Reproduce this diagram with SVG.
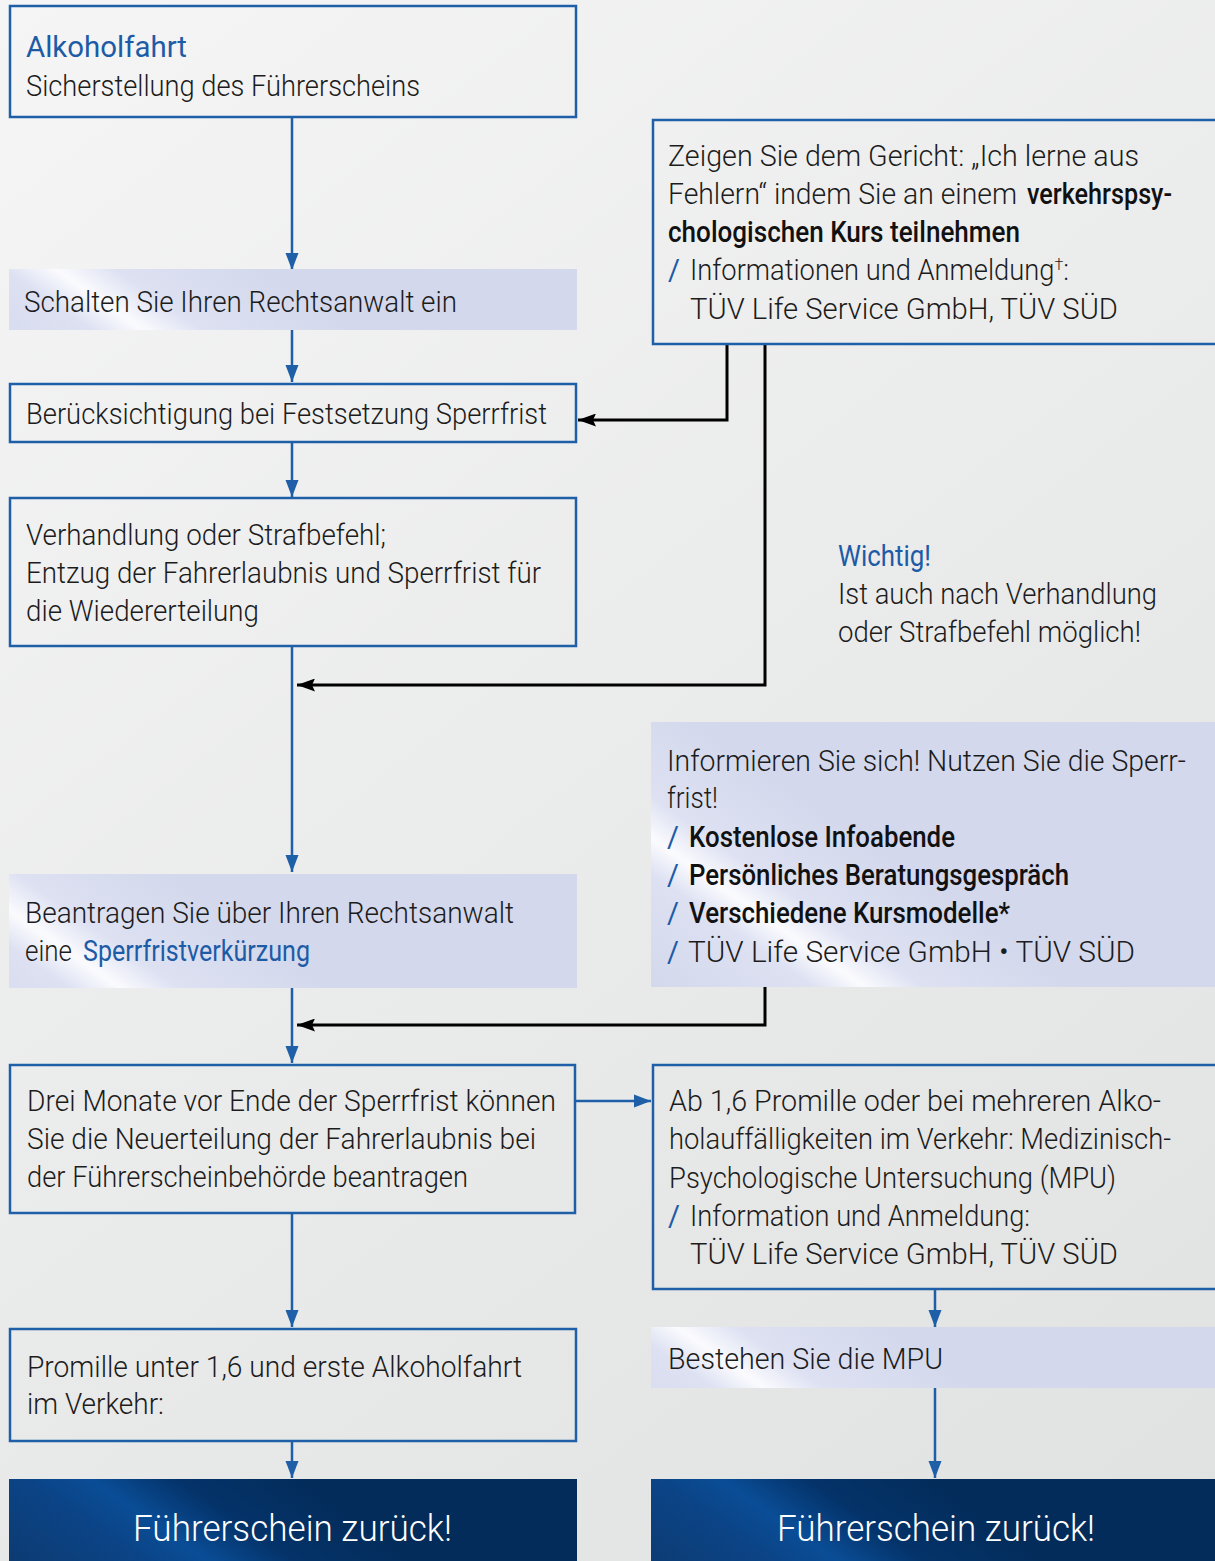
<svg xmlns="http://www.w3.org/2000/svg" width="1215" height="1561" viewBox="0 0 1215 1561">
<defs>
<style>
.t{font-family:Roboto,"Liberation Sans",sans-serif;font-weight:300;font-size:29px;fill:#1c1c1c}
.b{font-weight:500;fill:#111}
.bl{fill:#1d5ba6;font-weight:400}
.hd{font-family:Roboto,"Liberation Sans",sans-serif;font-weight:300;font-size:37px;fill:#ffffff}
.box{fill:none;stroke:#1f5fa8;stroke-width:2.5}
.cb{fill:none;stroke:#1f5fa8;stroke-width:2.5}
.ck{fill:none;stroke:#000;stroke-width:3}
</style>
<linearGradient id="bg" gradientUnits="userSpaceOnUse" x1="0" y1="0" x2="1215" y2="1561">
<stop offset="0" stop-color="#f5f5f5"/><stop offset="1" stop-color="#e0e1e1"/>
</linearGradient>
<linearGradient id="lvB" gradientUnits="userSpaceOnUse" x1="30" y1="400" x2="170" y2="200">
<stop offset="0" stop-color="#d3d8ec"/><stop offset="0.38" stop-color="#dde1f2"/><stop offset="0.5" stop-color="#fbfbfe"/><stop offset="0.64" stop-color="#dde1f2"/><stop offset="1" stop-color="#d3d8ec"/>
</linearGradient>
<linearGradient id="lvG" gradientUnits="userSpaceOnUse" x1="10" y1="1060" x2="150" y2="860">
<stop offset="0" stop-color="#d3d8ec"/><stop offset="0.38" stop-color="#dde1f2"/><stop offset="0.5" stop-color="#fbfbfe"/><stop offset="0.64" stop-color="#dde1f2"/><stop offset="1" stop-color="#d3d8ec"/>
</linearGradient>
<linearGradient id="lvF" gradientUnits="userSpaceOnUse" x1="690" y1="1014" x2="830" y2="814">
<stop offset="0" stop-color="#d3d8ec"/><stop offset="0.38" stop-color="#dde1f2"/><stop offset="0.5" stop-color="#fbfbfe"/><stop offset="0.64" stop-color="#dde1f2"/><stop offset="1" stop-color="#d3d8ec"/>
</linearGradient>
<linearGradient id="lvJ" gradientUnits="userSpaceOnUse" x1="650" y1="1457" x2="790" y2="1257">
<stop offset="0" stop-color="#d3d8ec"/><stop offset="0.38" stop-color="#dde1f2"/><stop offset="0.5" stop-color="#fbfbfe"/><stop offset="0.64" stop-color="#dde1f2"/><stop offset="1" stop-color="#d3d8ec"/>
</linearGradient>
<linearGradient id="dkL" gradientUnits="userSpaceOnUse" x1="80" y1="1620" x2="220" y2="1420">
<stop offset="0" stop-color="#0d3a70"/><stop offset="0.35" stop-color="#0b4487"/><stop offset="0.5" stop-color="#0a4d96"/><stop offset="0.7" stop-color="#04336a"/><stop offset="1" stop-color="#032c5a"/>
</linearGradient>
<linearGradient id="dkR" gradientUnits="userSpaceOnUse" x1="710" y1="1620" x2="850" y2="1420">
<stop offset="0" stop-color="#0d3a70"/><stop offset="0.35" stop-color="#0b4487"/><stop offset="0.5" stop-color="#0a4d96"/><stop offset="0.7" stop-color="#04336a"/><stop offset="1" stop-color="#032c5a"/>
</linearGradient>
<marker id="ab" markerUnits="userSpaceOnUse" markerWidth="18" markerHeight="14" refX="17" refY="7" orient="auto">
<path d="M0,0.5 L17,7 L0,13.5 z" fill="#1f5fa8"/>
</marker>
<marker id="ak" markerUnits="userSpaceOnUse" markerWidth="19" markerHeight="13" refX="18" refY="6.5" orient="auto">
<path d="M0,0 L18,6.5 L0,13 L3,6.5 z" fill="#000"/>
</marker>
</defs>
<rect x="0" y="0" width="1215" height="1561" fill="url(#bg)"/>

<g id="connectors">
<path class="cb" d="M292,117 V270" marker-end="url(#ab)"/>
<path class="cb" d="M292,330 V382" marker-end="url(#ab)"/>
<path class="cb" d="M292,442 V497" marker-end="url(#ab)"/>
<path class="cb" d="M292,646 V872" marker-end="url(#ab)"/>
<path class="cb" d="M292,988 V1063" marker-end="url(#ab)"/>
<path class="cb" d="M292,1213 V1327" marker-end="url(#ab)"/>
<path class="cb" d="M292,1441 V1478" marker-end="url(#ab)"/>
<path class="cb" d="M576,1101 H651" marker-end="url(#ab)"/>
<path class="cb" d="M935,1289 V1327" marker-end="url(#ab)"/>
<path class="cb" d="M935,1388 V1478" marker-end="url(#ab)"/>
<path class="ck" d="M727,344 V420 H578" marker-end="url(#ak)"/>
<path class="ck" d="M765,344 V685 H297" marker-end="url(#ak)"/>
<path class="ck" d="M765,987 V1025 H297" marker-end="url(#ak)"/>
</g>

<g id="n-alkoholfahrt">
<rect class="box" x="10" y="6" width="566" height="111"/>
<text class="t bl" x="26" y="57" font-size="31" textLength="161" lengthAdjust="spacingAndGlyphs">Alkoholfahrt</text>
<text class="t" x="26" y="96" textLength="394" lengthAdjust="spacingAndGlyphs">Sicherstellung des Führerscheins</text>
</g>

<g id="n-rechtsanwalt">
<rect x="9" y="269" width="568" height="61" fill="url(#lvB)"/>
<text class="t" x="24" y="312" textLength="433" lengthAdjust="spacingAndGlyphs">Schalten Sie Ihren Rechtsanwalt ein</text>
</g>

<g id="n-beruecksichtigung">
<rect class="box" x="10" y="384" width="566" height="58"/>
<text class="t" x="26" y="424" textLength="521" lengthAdjust="spacingAndGlyphs">Berücksichtigung bei Festsetzung Sperrfrist</text>
</g>

<g id="n-verhandlung">
<rect class="box" x="10" y="498" width="566" height="148"/>
<text class="t" x="26" y="545" textLength="360" lengthAdjust="spacingAndGlyphs">Verhandlung oder Strafbefehl;</text>
<text class="t" x="26" y="583" textLength="515" lengthAdjust="spacingAndGlyphs">Entzug der Fahrerlaubnis und Sperrfrist für</text>
<text class="t" x="26" y="621" textLength="233" lengthAdjust="spacingAndGlyphs">die Wiedererteilung</text>
</g>

<g id="n-kurs">
<rect class="box" x="653" y="120" width="600" height="224"/>
<text class="t" x="668" y="166" textLength="471" lengthAdjust="spacingAndGlyphs">Zeigen Sie dem Gericht: „Ich lerne aus</text>
<text class="t" x="668" y="204" textLength="349" lengthAdjust="spacingAndGlyphs">Fehlern“ indem Sie an einem</text>
<text class="t b" x="1027" y="204" textLength="145" lengthAdjust="spacingAndGlyphs">verkehrspsy-</text>
<text class="t b" x="668" y="242" textLength="352" lengthAdjust="spacingAndGlyphs">chologischen Kurs teilnehmen</text>
<text class="t bl" x="668" y="280">/</text>
<text class="t" x="690" y="280" textLength="379" lengthAdjust="spacingAndGlyphs">Informationen und Anmeldung<tspan font-size="17" baseline-shift="10">†</tspan>:</text>
<text class="t" x="690" y="319" textLength="428" lengthAdjust="spacingAndGlyphs">TÜV Life Service GmbH, TÜV SÜD</text>
</g>

<g id="n-wichtig">
<text class="t bl" x="838" y="566" textLength="93" lengthAdjust="spacingAndGlyphs">Wichtig!</text>
<text class="t" x="838" y="604" textLength="319" lengthAdjust="spacingAndGlyphs">Ist auch nach Verhandlung</text>
<text class="t" x="838" y="642" textLength="303" lengthAdjust="spacingAndGlyphs">oder Strafbefehl möglich!</text>
</g>

<g id="n-informieren">
<rect x="651" y="722" width="564" height="265" fill="url(#lvF)"/>
<text class="t" x="667" y="771" textLength="519" lengthAdjust="spacingAndGlyphs">Informieren Sie sich! Nutzen Sie die Sperr-</text>
<text class="t" x="667" y="808" textLength="51" lengthAdjust="spacingAndGlyphs">frist!</text>
<text class="t bl" x="667" y="847">/</text>
<text class="t b" x="689" y="847" textLength="266" lengthAdjust="spacingAndGlyphs">Kostenlose Infoabende</text>
<text class="t bl" x="667" y="885">/</text>
<text class="t b" x="689" y="885" textLength="380" lengthAdjust="spacingAndGlyphs">Persönliches Beratungsgespräch</text>
<text class="t bl" x="667" y="923">/</text>
<text class="t b" x="689" y="923" textLength="321" lengthAdjust="spacingAndGlyphs">Verschiedene Kursmodelle*</text>
<text class="t bl" x="667" y="962">/</text>
<text class="t" x="688" y="962" textLength="447" lengthAdjust="spacingAndGlyphs">TÜV Life Service GmbH • TÜV SÜD</text>
</g>

<g id="n-beantragen">
<rect x="9" y="874" width="568" height="114" fill="url(#lvG)"/>
<text class="t" x="25" y="923" textLength="489" lengthAdjust="spacingAndGlyphs">Beantragen Sie über Ihren Rechtsanwalt</text>
<text class="t" x="25" y="961" textLength="47" lengthAdjust="spacingAndGlyphs">eine</text>
<text class="t bl" x="83" y="961" textLength="227" lengthAdjust="spacingAndGlyphs">Sperrfristverkürzung</text>
</g>

<g id="n-neuerteilung">
<rect class="box" x="10" y="1065" width="565" height="148"/>
<text class="t" x="27" y="1111" textLength="529" lengthAdjust="spacingAndGlyphs">Drei Monate vor Ende der Sperrfrist können</text>
<text class="t" x="27" y="1149" textLength="509" lengthAdjust="spacingAndGlyphs">Sie die Neuerteilung der Fahrerlaubnis bei</text>
<text class="t" x="27" y="1187" textLength="441" lengthAdjust="spacingAndGlyphs">der Führerscheinbehörde beantragen</text>
</g>

<g id="n-mpu-info">
<rect class="box" x="653" y="1065" width="600" height="224"/>
<text class="t" x="669" y="1111" textLength="492" lengthAdjust="spacingAndGlyphs">Ab 1,6 Promille oder bei mehreren Alko-</text>
<text class="t" x="669" y="1149" textLength="502" lengthAdjust="spacingAndGlyphs">holauffälligkeiten im Verkehr: Medizinisch-</text>
<text class="t" x="669" y="1188" textLength="447" lengthAdjust="spacingAndGlyphs">Psychologische Untersuchung (MPU)</text>
<text class="t bl" x="668" y="1226">/</text>
<text class="t" x="690" y="1226" textLength="340" lengthAdjust="spacingAndGlyphs">Information und Anmeldung:</text>
<text class="t" x="690" y="1264" textLength="428" lengthAdjust="spacingAndGlyphs">TÜV Life Service GmbH, TÜV SÜD</text>
</g>

<g id="n-bestehen">
<rect x="651" y="1327" width="564" height="61" fill="url(#lvJ)"/>
<text class="t" x="668" y="1369" textLength="275" lengthAdjust="spacingAndGlyphs">Bestehen Sie die MPU</text>
</g>

<g id="n-promille">
<rect class="box" x="10" y="1329" width="566" height="112"/>
<text class="t" x="27" y="1377" textLength="495" lengthAdjust="spacingAndGlyphs">Promille unter 1,6 und erste Alkoholfahrt</text>
<text class="t" x="27" y="1414" textLength="137" lengthAdjust="spacingAndGlyphs">im Verkehr:</text>
</g>

<g id="n-zurueck-links">
<rect x="9" y="1479" width="568" height="82" fill="url(#dkL)"/>
<text class="hd" x="133" y="1541" textLength="319" lengthAdjust="spacingAndGlyphs">Führerschein zurück!</text>
</g>

<g id="n-zurueck-rechts">
<rect x="651" y="1479" width="564" height="82" fill="url(#dkR)"/>
<text class="hd" x="777" y="1541" textLength="318" lengthAdjust="spacingAndGlyphs">Führerschein zurück!</text>
</g>
</svg>
